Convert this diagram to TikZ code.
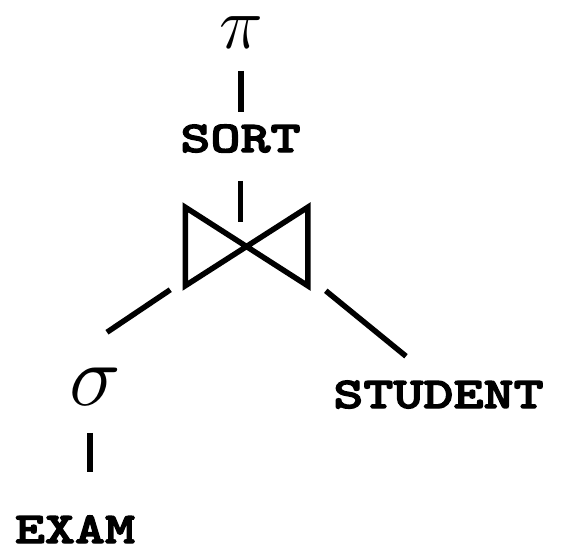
\RequirePackage{fix-cm}
\documentclass[tikz,border=0pt]{standalone}
\usepackage{fontspec}
\newfontfamily\cour{lmmonolt10-bold.otf}[FakeStretch=1.3,FakeBold=3]
\begin{document}
\begin{tikzpicture}[x=1pt,y=-1pt,line width=5.5pt,
  rel/.style={font=\cour\fontsize{44}{44}\selectfont, inner sep=0pt, anchor=base, text height=27pt, text depth=0pt},
  greek/.style={inner sep=0pt, anchor=base, text depth=0pt}]
\useasboundingbox (0,0) rectangle (561,555);
% nodes
\node[greek, text height=33pt, font=\fontsize{74}{74}\selectfont] (pi) at (241,48) {$\pi$};
\node[rel] (sort) at (240.5,152) {SORT};
\node[inner sep=0pt, minimum width=117pt, minimum height=73pt] (join) at (246.5,246.5) {};
\node[greek, text height=37pt, font=\fontsize{87}{87}\selectfont] (sigma) at (95,405) {$\sigma$};
\node[rel] (exam) at (75,543) {EXAM};
\node[rel] (student) at (438.5,408) {STUDENT};
% join symbol
\draw[line join=miter] (join.north west) -- (join.south west) -- (join.north east) -- (join.south east) -- cycle;
% connectors
\draw ([shift={(0,20)}]pi.south) -- ([shift={(0,-10)}]pi.south |- sort.north);
\draw ([shift={(0,26)}]sort.south) -- ([shift={(0,15)}]sort.south |- join.north);
\draw ([shift={(-15,4)}]join.south west) -- ([shift={(12,-33)}]sigma.north);
\draw ([shift={(18,5)}]join.south east) -- ([shift={(-32.5,-22)}]student.north);
\draw ([shift={(-5,25)}]sigma.south) -- ([shift={(15,-41)}]exam.north);
\end{tikzpicture}
\end{document}
